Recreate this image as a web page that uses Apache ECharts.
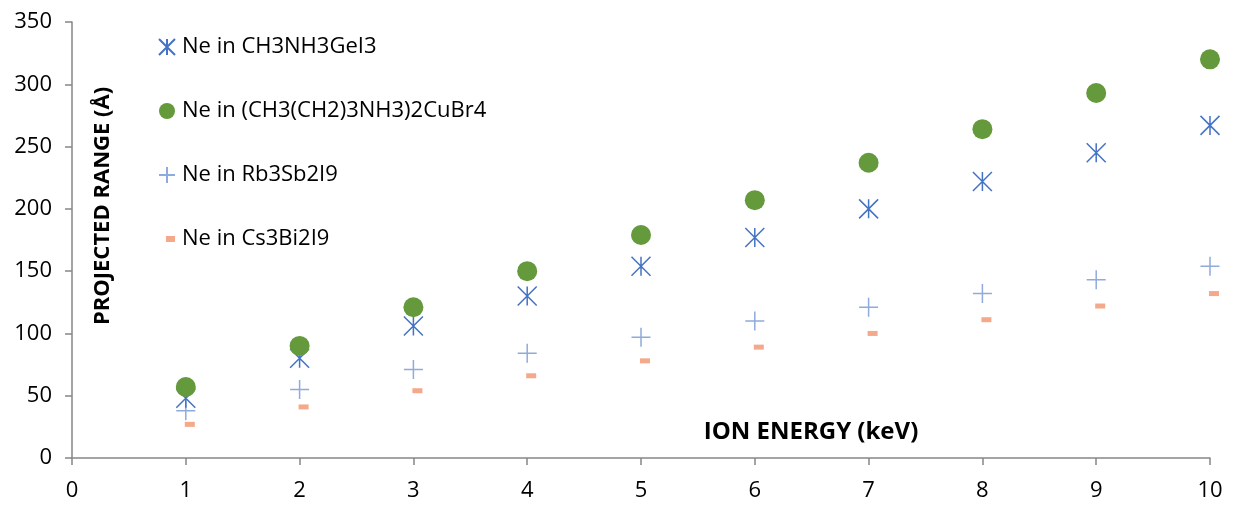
<!DOCTYPE html>
<html>
<head>
<meta charset="utf-8">
<script src="https://cdn.jsdelivr.net/npm/echarts@6/dist/echarts.min.js"></script>
<style>
  html, body { margin: 0; padding: 0; background: #fff; }
  #chart { width: 1237px; height: 506px; }
</style>
</head>
<body>
<div id="chart"></div>
<script>
// ion energy (keV)
const energy = [1, 2, 3, 4, 5, 6, 7, 8, 9, 10];
// projected range (Å)
const geI3 = [48, 80, 106, 130, 154, 177, 200, 222, 245, 267];
const cuBr4 = [57, 90, 121, 150, 179, 207, 237, 264, 293, 320];
const rb3Sb2I9 = [38, 55, 71, 84, 97, 110, 121, 132, 143, 154];
const cs3Bi2I9 = [27, 41, 54, 66, 78, 89, 100, 111, 122, 132];

const names = [
  'Ne in CH3NH3GeI3',
  'Ne in (CH3(CH2)3NH3)2CuBr4',
  'Ne in Rb3Sb2I9',
  'Ne in Cs3Bi2I9'
];

const FONT = '"Open Sans", sans-serif';
const asterisk = 'path://M0,0L10,10M10,0L0,10M5,0L5,10';
const plus = 'path://M0,5L10,5M5,0L5,10';
const dashIcon = 'path://M0,0M16,16M7,5h9v6h-9z';

const pairs = (ys) => energy.map((x, i) => [x, ys[i]]);

const chart = echarts.init(document.getElementById('chart'));

const option = {
  animation: false,
  backgroundColor: '#fff',
  grid: { left: 72, right: 27, top: 22, bottom: 48 },
  legend: {
    orient: 'vertical',
    left: 153,
    top: 30,
    itemWidth: 16,
    itemHeight: 16,
    itemGap: 40,
    textStyle: { fontFamily: FONT, fontSize: 22, color: '#000', lineHeight: 24, padding: [0, 0, 0, 2] },
    data: [
      { name: names[0], icon: asterisk },
      { name: names[1], icon: 'circle' },
      { name: names[2], icon: plus },
      { name: names[3], icon: dashIcon }
    ]
  },
  xAxis: {
    type: 'value',
    min: 0,
    max: 10,
    interval: 1,
    splitLine: { show: false },
    axisLine: { lineStyle: { color: '#868686', width: 1.5 } },
    axisTick: { show: true, length: 7, lineStyle: { color: '#868686', width: 1.5 } },
    axisLabel: { fontFamily: FONT, fontSize: 22, color: '#000', margin: 22 }
  },
  yAxis: {
    type: 'value',
    min: 0,
    max: 350,
    interval: 50,
    splitLine: { show: false },
    axisLine: { show: true, lineStyle: { color: '#868686', width: 1.5 } },
    axisTick: { show: true, length: 7, lineStyle: { color: '#868686', width: 1.5 } },
    axisLabel: { fontFamily: FONT, fontSize: 22, color: '#000', margin: 20 }
  },
  graphic: [
    {
      type: 'text',
      x: 103,
      y: 206,
      rotation: Math.PI / 2,
      style: {
        text: 'PROJECTED RANGE (Å)',
        font: 'bold 22px "Open Sans", sans-serif',
        fill: '#000',
        align: 'center',
        verticalAlign: 'middle'
      }
    },
    {
      type: 'text',
      x: 811,
      y: 432,
      style: {
        text: 'ION ENERGY (keV)',
        font: 'bold 24px "Open Sans", sans-serif',
        fill: '#000',
        align: 'center',
        verticalAlign: 'middle'
      }
    }
  ],
  series: [
    {
      name: names[0],
      type: 'scatter',
      symbol: asterisk,
      symbolSize: 19,
      itemStyle: { color: 'rgba(0,0,0,0)', borderColor: '#4472C4', borderWidth: 1.5, opacity: 1 },
      data: pairs(geI3),
      z: 3
    },
    {
      name: names[1],
      type: 'scatter',
      symbol: 'circle',
      symbolSize: 20,
      itemStyle: { color: '#64993C', opacity: 1 },
      data: pairs(cuBr4),
      z: 4
    },
    {
      name: names[2],
      type: 'scatter',
      symbol: plus,
      symbolSize: 19,
      itemStyle: { color: 'rgba(0,0,0,0)', borderColor: '#8FAADC', borderWidth: 1.5, opacity: 1 },
      data: pairs(rb3Sb2I9),
      z: 2
    },
    {
      name: names[3],
      type: 'scatter',
      symbol: 'rect',
      symbolSize: [10, 5],
      symbolOffset: [4, 0],
      itemStyle: { color: '#F3A98A', opacity: 1 },
      data: pairs(cs3Bi2I9),
      z: 2
    }
  ]
};

chart.setOption(option);
</script>
</body>
</html>
